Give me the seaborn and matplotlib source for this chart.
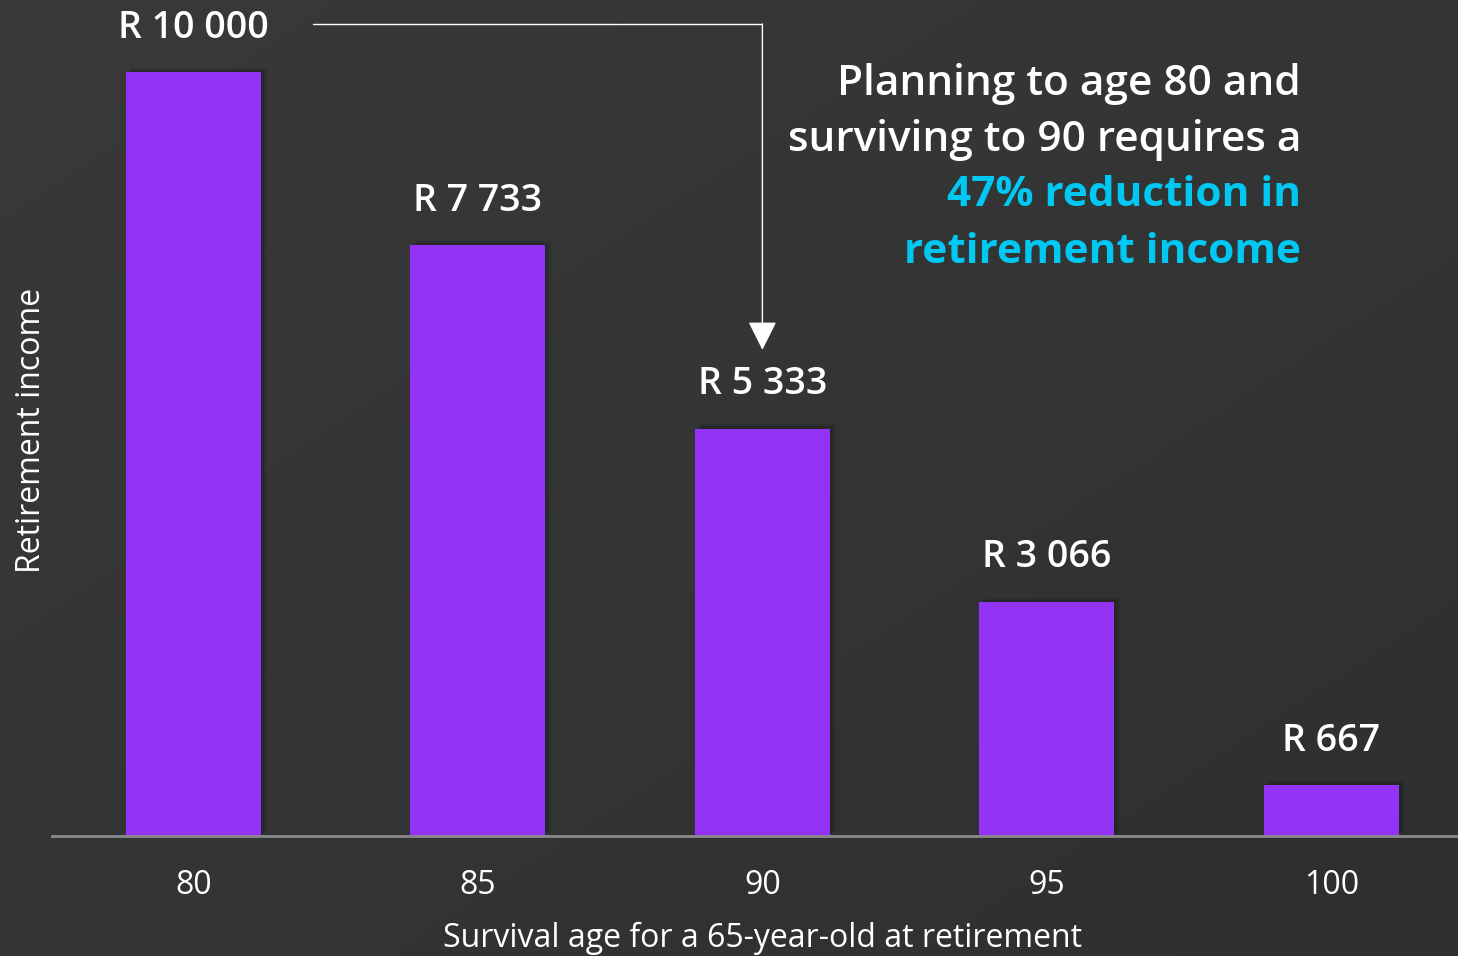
import numpy as np
import pandas as pd
import seaborn as sns
import matplotlib.pyplot as plt
import matplotlib.patheffects as pe

ages = ['80', '85', '90', '95', '100']
incomes = [10000, 7733, 5333, 3066, 667]
value_labels = ['R 10 000', 'R 7 733', 'R 5 333', 'R 3 066', 'R 667']
note_lines = ['Planning to age 80 and', 'surviving to 90 requires a',
              '47% reduction in', 'retirement income']

BG = '#343535'
BAR = '#9333F5'
CYAN = '#00C8F2'

sns.set_style('dark')
plt.rcParams['font.family'] = ['Open Sans', 'DejaVu Sans']

fig = plt.figure(figsize=(14.58, 9.56), dpi=100)
fig.patch.set_facecolor(BG)

# subtle diagonal background gradient
bg = fig.add_axes([0, 0, 1, 1], zorder=-10)
gx, gy = np.meshgrid(np.linspace(0, 1, 200), np.linspace(0, 1, 200))
grad = 0.5 * gx + 0.5 * gy
bg.imshow(grad, cmap=sns.blend_palette(['#393939', '#2e3030'], as_cmap=True),
          aspect='auto', extent=[0, 1, 0, 1], origin='upper')
bg.axis('off')

ax = fig.add_axes([52 / 1458, 120 / 956, 1406 / 1458, 836 / 956])
ax.set_facecolor('none')

df = pd.DataFrame({'age': ages, 'income': incomes})
sns.barplot(data=df, x='age', y='income', color=BAR, saturation=1, width=0.475, ax=ax)

# soft drop shadow behind the bars
for p in ax.patches:
    p.set_edgecolor('none')
    p.set_path_effects([pe.SimplePatchShadow(offset=(4, 3), shadow_rgbFace='black', alpha=0.10),
                        pe.SimplePatchShadow(offset=(2, 1.5), shadow_rgbFace='black', alpha=0.15),
                        pe.Normal()])

ax.set_xlim(-0.497, 4.445)
ax.set_ylim(0, 10942)

for i, (v, lab) in enumerate(zip(incomes, value_labels)):
    ax.annotate(lab, (i, v), xytext=(0, 32), textcoords='offset points',
                ha='center', va='center', color='white', fontsize=27, fontweight='semibold')

# connector from the top label down to the 90 label
y_top = incomes[0] + 628
ax.plot([0.42, 2], [y_top, y_top], color='white', lw=1)
ax.annotate('', xy=(2, incomes[2] + 1030), xytext=(2, y_top),
            arrowprops=dict(arrowstyle='-|>,head_length=1.8,head_width=0.9', color='white', lw=1,
                            shrinkA=0, shrinkB=0))

# note text, one line at a time (figure pixel rows of the reference)
line_y = [84, 140, 196, 252]
for k, (txt, yy) in enumerate(zip(note_lines, line_y)):
    fig.text(1301 / 1458, 1 - yy / 956, txt, ha='right', va='center',
             color='white' if k < 2 else CYAN, fontsize=30.5,
             fontweight='semibold' if k < 2 else 'bold')

ax.set_yticks([])
ax.tick_params(axis='x', length=0, colors='white', labelsize=23, pad=24)
for s in ['top', 'right', 'left']:
    ax.spines[s].set_visible(False)
ax.spines['bottom'].set_color('#8a8a8a')
ax.spines['bottom'].set_linewidth(2)

ax.set_xlabel('Survival age for a 65-year-old at retirement', color='white', fontsize=23)
ax.xaxis.set_label_coords(0.505, -0.102)
ax.set_ylabel('Retirement income', color='white', fontsize=23)
ax.yaxis.set_label_coords(-0.003, 0.485)

fig.savefig('out.png', dpi=100, facecolor=fig.get_facecolor())
